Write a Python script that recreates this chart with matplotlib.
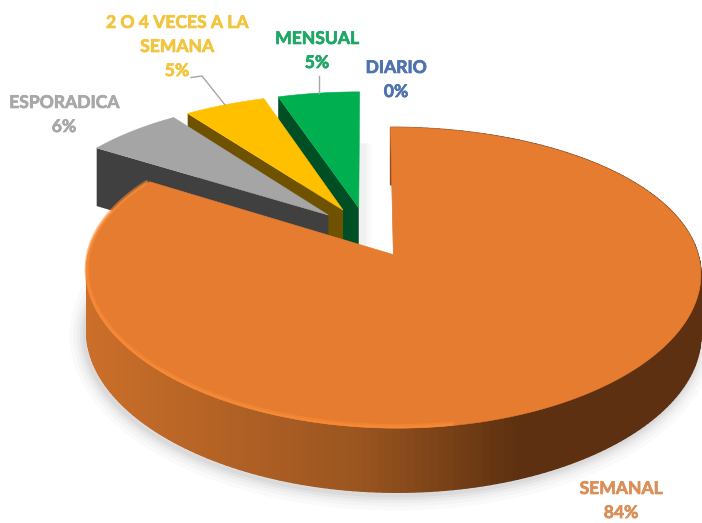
import numpy as np
import matplotlib
matplotlib.use("Agg")
import matplotlib.pyplot as plt
import matplotlib.patheffects as pe
from matplotlib.patches import Polygon
from matplotlib.colors import to_rgb

categories = ["SEMANAL", "ESPORADICA", "2 O 4 VECES A LA\nSEMANA", "MENSUAL", "DIARIO"]
values = [84, 6, 5, 5, 0]
top_colors = ["#E67C30", "#A5A5A5", "#FFC000", "#00AF50", "#4472C4"]
wall_colors = ["#8A4A1A", "#404040", "#6E5200", "#004F24", "#203864"]
label_colors = ["#DB8F58", "#A8A8A8", "#F2C53C", "#1FA765", "#4F73AE"]
label_pct = ["84%", "6%", "5%", "5%", "0%"]

# projection parameters of the tilted, exploded pie
CX, CY, A, B, K, KX, EXPLODE, DEPTH = 367, 232, 299, 140, 0.15, 0.12, 0.18, 60


def project(u, v):
    s = 1 / (1 + K * v)
    return CX + A * u / (1 + KX * v), CY - B * v * s, s


def wall(s):
    return DEPTH * s ** 0.35


def slice_geometry(t0, t1):
    """outline of one exploded wedge, clockwise degrees from 12 o'clock"""
    mid = np.radians((t0 + t1) / 2)
    ou, ov = EXPLODE * np.sin(mid), EXPLODE * np.cos(mid)
    th = np.radians(np.linspace(t0, t1, 240))
    x, y, s = project(ou + np.sin(th), ov + np.cos(th))
    ax_, ay_, as_ = project(np.array([ou]), np.array([ov]))
    return x, y, s, ax_[0], ay_[0], as_[0]


fig = plt.figure(figsize=(7.02, 5.23), dpi=100, facecolor="white")
ax = fig.add_axes([0, 0, 1, 1])
ax.set_xlim(0, 702)
ax.set_ylim(523, 0)
ax.axis("off")

plt.rcParams["font.family"] = ["Lato", "DejaVu Sans"]

bounds = np.cumsum([0] + values) * 3.6
geom = [slice_geometry(bounds[i], bounds[i + 1]) for i in range(len(values)) if values[i] > 0]

# soft shadow of the large slice
x, y, s, ox, oy, os_ = geom[0]
th = np.linspace(bounds[0], bounds[1], 240)
front = (th > 60) & (th < 290)
for lw, al in [(22, 0.03), (16, 0.04), (11, 0.05), (7, 0.07), (3, 0.09)]:
    ax.plot(x[front] - 2, (y + wall(s))[front] + 3, color="#777777", lw=lw, alpha=al,
            zorder=1, solid_capstyle="round")

# small slices, back to front
for idx in [3, 2, 1]:
    x, y, s, ox, oy, os_ = geom[idx]
    for lw, al in [(14, 0.03), (9, 0.04), (5, 0.05)]:
        ax.plot([ox + 3, ox + 3], [oy - 65, oy + wall(os_)], color="#888888", lw=lw, alpha=al,
                zorder=2, solid_capstyle="butt")
    xf = [x[0], ox, ox, x[0]]
    yf = [y[0], oy, oy + wall(os_), y[0] + wall(s[0])]
    z = 3 + (3 - idx) * 2
    ax.add_patch(Polygon(np.c_[xf, yf], closed=True, fc=wall_colors[idx], ec="none", zorder=z))
    ax.add_patch(Polygon(np.c_[np.r_[x, ox], np.r_[y, oy]], closed=True, fc=top_colors[idx],
                         ec=top_colors[idx], lw=0.4, zorder=z + 1))

# large slice: rim wall shaded along its width
x, y, s, ox, oy, os_ = geom[0]
bright = np.array(to_rgb("#CB6F2A"))
mid = np.array(to_rgb("#9A5520"))
dark = np.array(to_rgb("#5C3010"))
for i in range(len(x) - 1):
    xm = 0.5 * (x[i] + x[i + 1])
    if xm < 360:
        c = bright + (mid - bright) * (xm - 87) / (360 - 87)
    elif xm < 520:
        c = mid + (dark - mid) * (xm - 360) / 160
    else:
        c = dark
    q = [(x[i], y[i]), (x[i + 1], y[i + 1]),
         (x[i + 1], y[i + 1] + wall(s[i + 1])), (x[i], y[i] + wall(s[i]))]
    ax.add_patch(Polygon(q, closed=True, fc=c, ec=c, lw=1.0, zorder=10))
ax.add_patch(Polygon(np.c_[np.r_[x, ox], np.r_[y, oy]], closed=True, fc=top_colors[0],
                     ec=top_colors[0], lw=0.4, zorder=11))
# soft bevel highlight on the front-left of the rim
sel = (th > 170) & (th < 302)
ax.plot(x[sel], y[sel] - 2, color="#F88B36", lw=3.0, alpha=0.55, zorder=12, solid_capstyle="round")
ax.plot(x[sel], y[sel] - 1, color="#F88B36", lw=1.6, alpha=0.8, zorder=12, solid_capstyle="round")
ax.plot([ox, x[0]], [oy, y[0]], color="#7A4A20", lw=0.6, alpha=0.4, zorder=9)

# leader lines
x3, y3, *_ = geom[2]
ax.plot([191, 202, x3[120]], [77.5, 76, y3[120]], color="#A6A6A6", lw=1, zorder=20)
x4, y4, *_ = geom[3]
ax.plot([x4[120], x4[120]], [76, y4[120]], color="#A6A6A6", lw=1, zorder=20)

# labels
fs = 12.6
pos = [(621, 501), (64, 115), (177, 47), (317, 51), (396, 80)]
for name, pct, col, (px, py) in zip(categories, label_pct, label_colors, pos):
    ax.text(px, py, name + "\n" + pct, color=col, fontsize=fs, fontweight="bold",
            ha="center", va="center", linespacing=1.62, zorder=30,
            path_effects=[pe.withStroke(linewidth=0.5, foreground=col)])

fig.savefig("out.png", dpi=100)
